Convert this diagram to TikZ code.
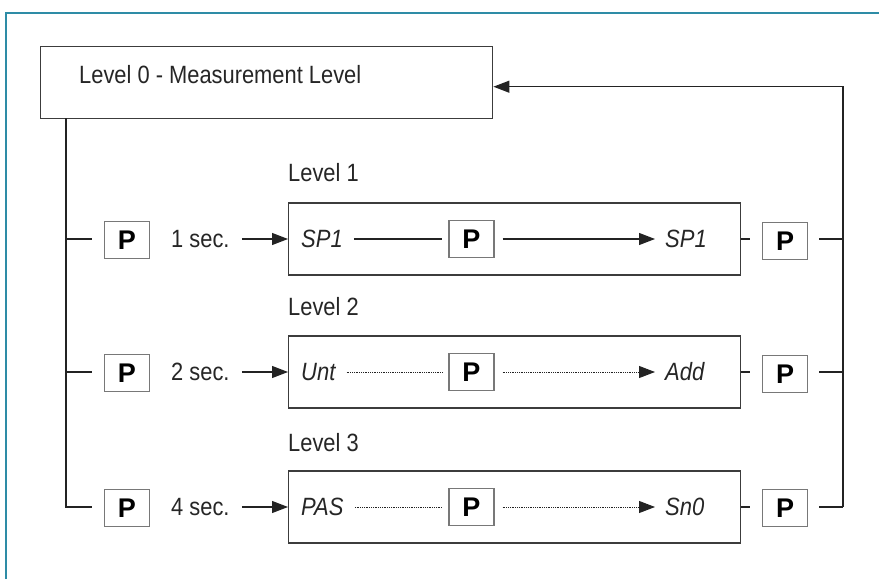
\documentclass[tikz,border=0pt]{standalone}
\usepackage{fontspec}
\setmainfont[FakeStretch=0.875]{Liberation Sans}
\newfontfamily\keyfont{Liberation Sans}
\newfontfamily\segfont[FakeStretch=0.88]{Liberation Sans}
\usetikzlibrary{arrows.meta}

\definecolor{frameteal}{RGB}{46,140,166}
\definecolor{boxgray}{RGB}{60,60,60}
\definecolor{keygray}{RGB}{120,120,120}
\definecolor{linegray}{RGB}{35,35,35}

\tikzset{
  frameline/.style={draw=frameteal, line width=2pt},
  levelbox/.style={draw=boxgray, line width=1.4pt, minimum width=452pt, minimum height=72pt, inner sep=0pt},
  keybox/.style={draw=keygray, line width=1.2pt, minimum width=45pt, minimum height=37pt, inner sep=0pt,
                 font=\keyfont\bfseries\fontsize{27}{27}\selectfont},
  lbl/.style={font=\fontsize{25}{27}\selectfont, inner sep=0pt, text=black!85},
  seg/.style={font=\segfont\itshape\fontsize{25}{25}\selectfont, inner sep=0pt, text=black!85},
  conn/.style={draw=linegray, line width=1.1pt},
  arr/.style={conn, -{Triangle[length=16pt,width=12pt]}},
  dots/.style={draw=linegray, line width=0.9pt, dash pattern=on 0.9pt off 0.9pt},
  dotarr/.style={dots, -{Triangle[length=16pt,width=12pt]}},
}

\begin{document}
\begin{tikzpicture}[x=1pt, y=-1pt]
  \useasboundingbox (0,0) rectangle (879,579);

  % open frame: left and top edges
  \draw[frameline] (6,579) -- (6,13) -- (879,13);

  % level 0
  \node[levelbox, minimum height=72pt, anchor=north west] (L0) at (40,46) {};
  \node[lbl, anchor=west] (L0t) at (79,75) {Level 0 - Measurement Level};

  % level boxes and their titles
  \node[levelbox, anchor=west] (L1) at (288,239) {};
  \node[levelbox, anchor=west] (L2) at (288,372) {};
  \node[levelbox, anchor=west] (L3) at (288,507) {};
  \node[lbl, anchor=west] (L1t) at (288,173) {Level 1};
  \node[lbl, anchor=west] (L2t) at (288,307) {Level 2};
  \node[lbl, anchor=west] (L3t) at (288,443) {Level 3};

  % keys on the left with hold times
  \node[keybox] (kl1) at (127,240) {P};
  \node[keybox] (kl2) at (127,373) {P};
  \node[keybox] (kl3) at (127,508) {P};
  \node[lbl, anchor=west] (s1) at (171,239) {1 sec.};
  \node[lbl, anchor=west] (s2) at (171,372) {2 sec.};
  \node[lbl, anchor=west] (s3) at (171,507) {4 sec.};

  % display texts inside the levels
  \node[seg, anchor=west] (a1) at (301,239) {SP1};
  \node[seg, anchor=west] (b1) at (665,239) {SP1};
  \node[seg, anchor=west] (a2) at (301,372) {Unt};
  \node[seg, anchor=west] (b2) at (665,372) {Add};
  \node[seg, anchor=west] (a3) at (301,507) {PAS};
  \node[seg, anchor=west] (b3) at (665,507) {Sn0};

  % keys inside the levels
  \node[keybox] (km1) at (471.5,239) {P};
  \node[keybox] (km2) at (471.5,372) {P};
  \node[keybox] (km3) at (471.5,507) {P};

  % keys on the right
  \node[keybox] (kr1) at (785,241) {P};
  \node[keybox] (kr2) at (785,374) {P};
  \node[keybox] (kr3) at (785,508) {P};

  % trunk coordinates
  \coordinate (t0) at (66,118);
  \coordinate (w1) at (66,239);
  \coordinate (w2) at (66,372);
  \coordinate (w3) at (66,507);
  \coordinate (e1) at (843,239);
  \coordinate (e2) at (843,372);
  \coordinate (e3) at (843,507);

  % left trunk and branches
  \draw[conn] (t0) -- (w3) -- ([xshift=-12pt]kl3.west |- w3);
  \draw[conn] (w1) -- ([xshift=-12pt]kl1.west |- w1);
  \draw[conn] (w2) -- ([xshift=-12pt]kl2.west |- w2);

  % entry arrows
  \draw[arr, shorten <=12pt] (s1.east) -- (L1.west);
  \draw[arr, shorten <=12pt] (s2.east) -- (L2.west);
  \draw[arr, shorten <=12pt] (s3.east) -- (L3.west);

  % level 1 sequence
  \draw[conn, shorten <=11pt, shorten >=6pt] (a1.east) -- (km1.west);
  \draw[arr, shorten <=8pt, shorten >=10pt] (km1.east) -- (b1.west);
  % level 2 sequence
  \draw[dots, shorten <=11pt, shorten >=6pt] (a2.east) -- (km2.west |- a2.east);
  \draw[dotarr, shorten <=8pt, shorten >=10pt] (km2.east |- b2.west) -- (b2.west);
  % level 3 sequence
  \draw[dots, shorten <=11pt, shorten >=6pt] (a3.east) -- (km3.west |- a3.east);
  \draw[dotarr, shorten <=8pt, shorten >=10pt] (km3.east |- b3.west) -- (b3.west);

  % exits on the right
  \draw[conn, shorten >=12pt] (L1.east) -- (kr1.west |- L1.east);
  \draw[conn, shorten >=12pt] (L2.east) -- (kr2.west |- L2.east);
  \draw[conn, shorten >=12pt] (L3.east) -- (kr3.west |- L3.east);
  \draw[conn, shorten <=11pt] (kr1.east |- e1) -- (e1);
  \draw[conn, shorten <=11pt] (kr2.east |- e2) -- (e2);

  % return to level 0
  \draw[conn, shorten <=11pt] (kr3.east |- e3) -- (e3);
  \draw[arr] (e3) |- ([yshift=-4pt]L0.east);
\end{tikzpicture}
\end{document}
